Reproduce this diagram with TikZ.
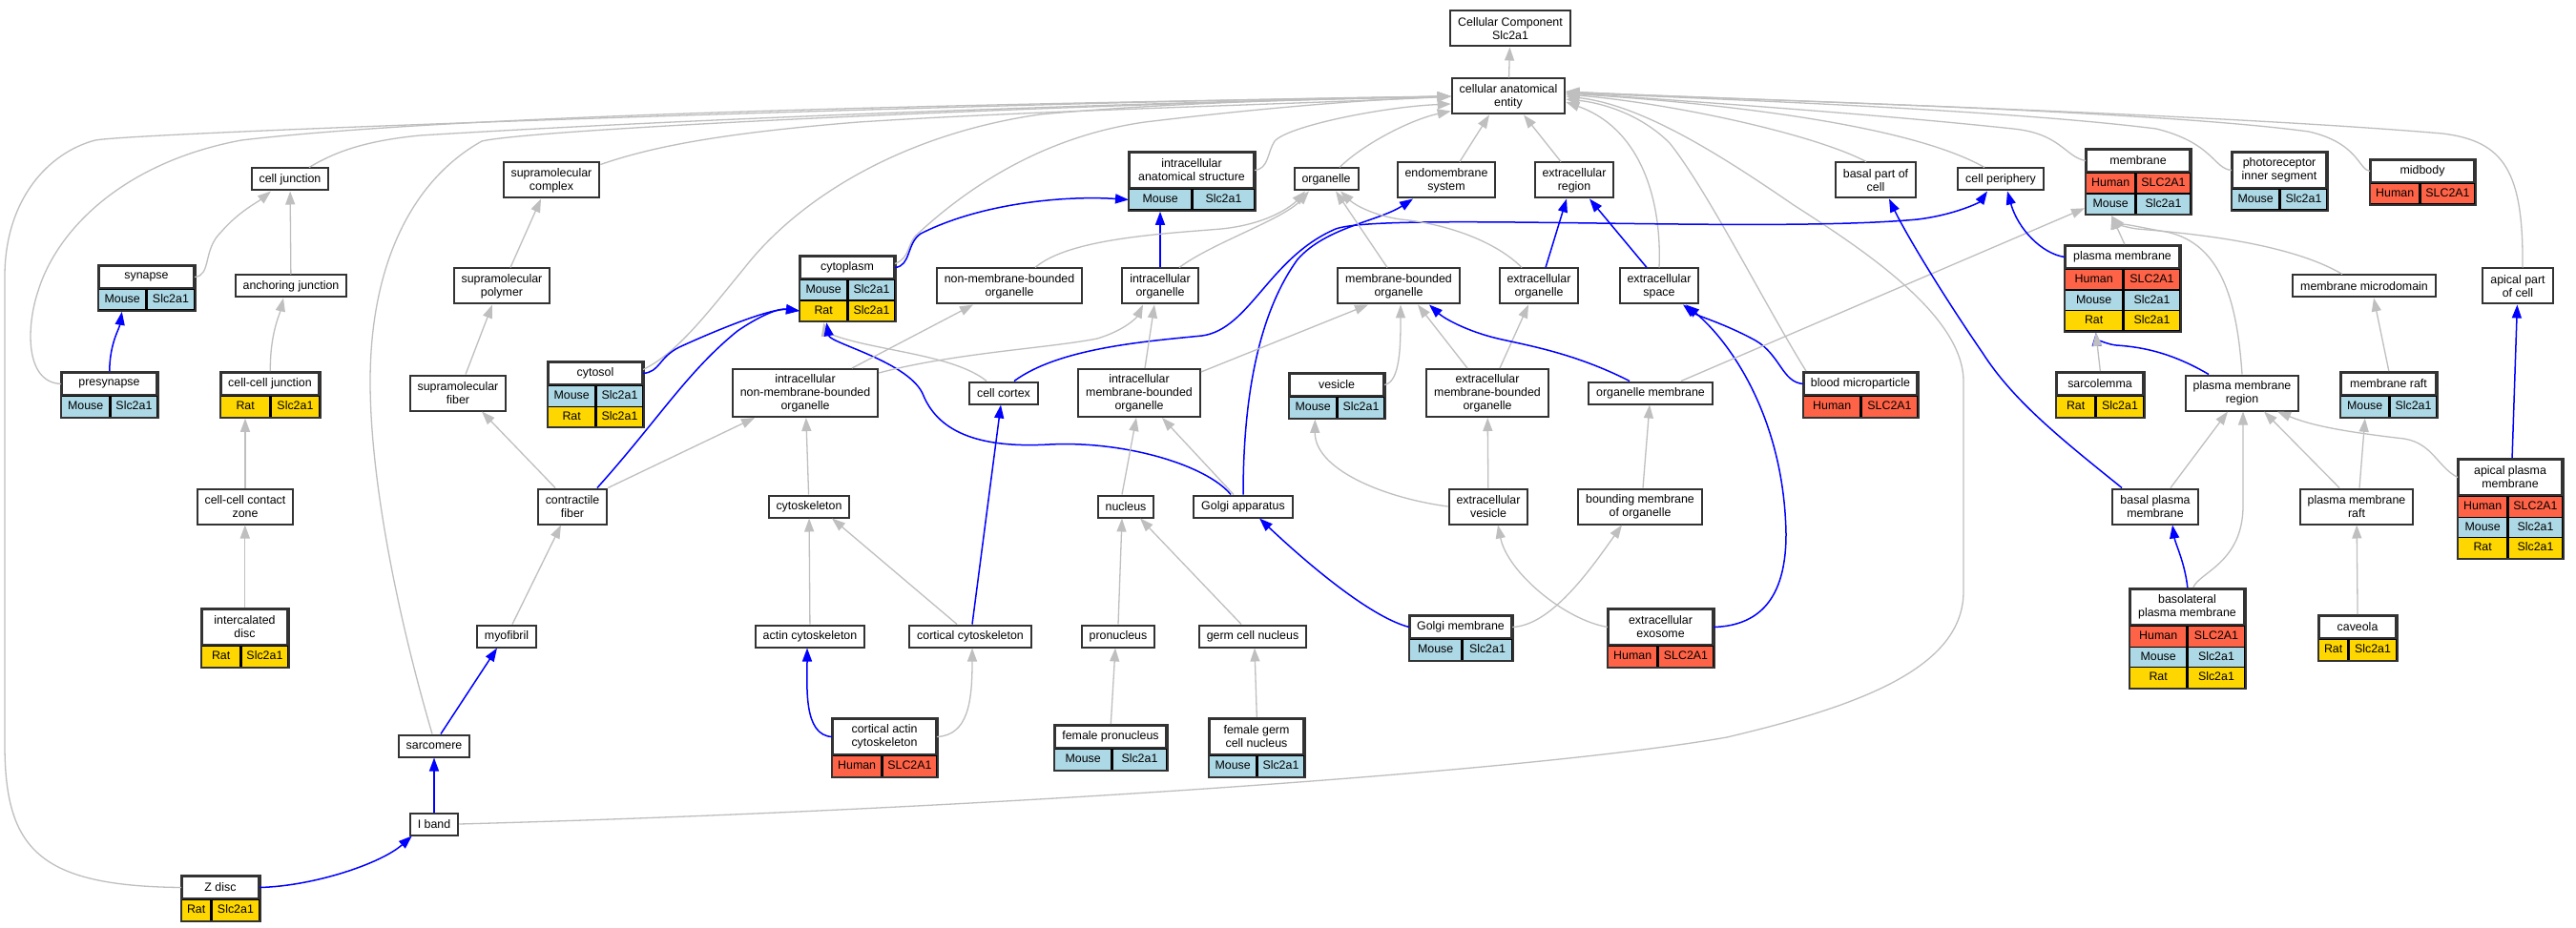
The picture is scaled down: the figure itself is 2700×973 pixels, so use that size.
\documentclass[tikz,border=0pt]{standalone}
\usepackage[svgnames]{xcolor}
\usepackage{fontspec}
\setmainfont{Liberation Sans}
\usepackage{tikz}
\usetikzlibrary{arrows.meta,fit}

% #1 name, #2 header style, #3 top centre, #4/#5 column widths, #6 header, #7 rows
\newcommand{\gotab}[7]{%
    \node[term, #2, anchor=north, inner xsep=2pt, minimum width=#4+#5] (#1-h) at (#3) {#6};
    \foreach \species/\gene/\shade [count=\i] in {#7} {
        \node[cell, fill=\shade, minimum width=#4, anchor=north west] (#1-a\i)
            at ([yshift=-(\i-1)*21.5pt]#1-h.south west) {\species};
        \node[cell, fill=\shade, minimum width=#5, anchor=north west] (#1-b\i) at (#1-a\i.north east) {\gene};
        \xdef\lastrow{\i}
    }
    \node[fit=(#1-h)(#1-b\lastrow), inner sep=0pt, draw=black!80, line width=2pt] (#1) {};
}

\begin{document}
\begin{tikzpicture}[x=1pt, y=-1pt,
      every node/.append style={font=\fontsize{12.4}{14}\selectfont},
      isa/.style={draw=black!25, line width=1.3pt, -{Triangle[length=14pt,width=10pt]}},
      partof/.style={draw=blue, line width=1.5pt, -{Triangle[length=14pt,width=10pt]}}]
    \tikzstyle{term} = [draw=black!80, line width=2pt, fill=white, align=center, inner xsep=8pt, inner ysep=2pt, minimum height=23pt]
    \tikzstyle{two} = [minimum height=37pt]
    \tikzstyle{three} = [minimum height=50pt]
    \tikzstyle{cell} = [draw=black, line width=1.3pt, minimum height=21.5pt, inner sep=0pt, text height=9pt, text depth=2.5pt]
    \fill[white] (0,0) rectangle (2700,973);
    \useasboundingbox (0,0) rectangle (2700,973);

    \node[term, two] (cc) at (1583,30) {Cellular Component\\Slc2a1};
    \node[term, two] (cae) at (1581,101) {cellular anatomical\\entity};
    \node[term] (celljunction) at (304,188) {cell junction};
    \node[term, two] (supcomplex) at (578,189) {supramolecular\\complex};
    \node[term] (organelle) at (1390,188) {organelle};
    \node[term, two] (endomem) at (1516,189) {endomembrane\\system};
    \node[term, two] (exregion) at (1650,189) {extracellular\\region};
    \node[term, two] (basalpart) at (1966,189) {basal part of\\cell};
    \node[term] (periphery) at (2097,188) {cell periphery};
    \node[term] (anchoring) at (305,300) {anchoring junction};
    \node[term, two] (suppolymer) at (526,300) {supramolecular\\polymer};
    \node[term, two] (nmbo) at (1058,300) {non-membrane-bounded\\organelle};
    \node[term, two] (intraorg) at (1216,300) {intracellular\\organelle};
    \node[term, two] (mbo) at (1466,300) {membrane-bounded\\organelle};
    \node[term, two] (exorg) at (1613,300) {extracellular\\organelle};
    \node[term, two] (exspace) at (1739,300) {extracellular\\space};
    \node[term] (microdomain) at (2478,300) {membrane microdomain};
    \node[term, two] (apicalpart) at (2639,300) {apical part\\of cell};
    \node[term, two] (supfiber) at (480,412) {supramolecular\\fiber};
    \node[term, three] (inmbo) at (844,412) {intracellular\\non-membrane-bounded\\organelle};
    \node[term] (cortex) at (1052,412) {cell cortex};
    \node[term, three] (imbo) at (1194,412) {intracellular\\membrane-bounded\\organelle};
    \node[term, three] (embo) at (1559,412) {extracellular\\membrane-bounded\\organelle};
    \node[term] (orgmem) at (1730,412) {organelle membrane};
    \node[term, two] (pmregion) at (2350,412) {plasma membrane\\region};
    \node[term, two] (contactzone) at (257,531) {cell-cell contact\\zone};
    \node[term, two] (contractile) at (600,531) {contractile\\fiber};
    \node[term] (cytoskeleton) at (848,531) {cytoskeleton};
    \node[term] (nucleus) at (1180,531) {nucleus};
    \node[term] (golgi) at (1303,531) {Golgi apparatus};
    \node[term, two] (exvesicle) at (1560,531) {extracellular\\vesicle};
    \node[term, two] (boundmem) at (1719,531) {bounding membrane\\of organelle};
    \node[term, two] (basalpm) at (2259,531) {basal plasma\\membrane};
    \node[term, two] (pmraft) at (2470,531) {plasma membrane\\raft};
    \node[term] (myofibril) at (531,667) {myofibril};
    \node[term] (actin) at (849,667) {actin cytoskeleton};
    \node[term] (corticalcyto) at (1017,667) {cortical cytoskeleton};
    \node[term] (pronucleus) at (1172,667) {pronucleus};
    \node[term] (germnucleus) at (1313,667) {germ cell nucleus};
    \node[term] (sarcomere) at (455,782) {sarcomere};
    \node[term] (iband) at (455,864) {I band};

    \gotab{synapse}{}{153.5,278}{49}{50}{synapse}{Mouse/Slc2a1/LightBlue}
    \gotab{presynapse}{}{114.5,390}{50}{49}{presynapse}{Mouse/Slc2a1/LightBlue}
    \gotab{ccjunction}{}{283,390}{51}{51}{cell-cell junction}{Rat/Slc2a1/Gold}
    \gotab{cytosol}{}{624,379}{49}{49}{cytosol}{Mouse/Slc2a1/LightBlue, Rat/Slc2a1/Gold}
    \gotab{cytoplasm}{}{888,268}{49}{49}{cytoplasm}{Mouse/Slc2a1/LightBlue, Rat/Slc2a1/Gold}
    \gotab{ias}{two}{1249,159}{65}{65}{intracellular\\anatomical structure}{Mouse/Slc2a1/LightBlue}
    \gotab{vesicle}{}{1401,391}{49}{49}{vesicle}{Mouse/Slc2a1/LightBlue}
    \gotab{membrane}{}{2241,156}{51}{57}{membrane}{Human/SLC2A1/Tomato, Mouse/Slc2a1/LightBlue}
    \gotab{pis}{two}{2389,159}{49}{49}{photoreceptor\\inner segment}{Mouse/Slc2a1/LightBlue}
    \gotab{midbody}{}{2539,167}{51}{57}{midbody}{Human/SLC2A1/Tomato}
    \gotab{pm}{}{2224.5,257}{60}{59}{plasma membrane}{Human/SLC2A1/Tomato, Mouse/Slc2a1/LightBlue, Rat/Slc2a1/Gold}
    \gotab{bmp}{}{1950,390}{59}{59}{blood microparticle}{Human/SLC2A1/Tomato}
    \gotab{sarcolemma}{}{2201,390}{40}{50}{sarcolemma}{Rat/Slc2a1/Gold}
    \gotab{raft}{}{2503.5,390}{50}{49}{membrane raft}{Mouse/Slc2a1/LightBlue}
    \gotab{apicalpm}{two}{2631,481}{51}{57}{apical plasma\\membrane}{Human/SLC2A1/Tomato, Mouse/Slc2a1/LightBlue, Rat/Slc2a1/Gold}
    \gotab{intercalated}{two}{256.5,638}{40}{49}{intercalated\\disc}{Rat/Slc2a1/Gold}
    \gotab{golgimem}{}{1531,645}{54}{52}{Golgi membrane}{Mouse/Slc2a1/LightBlue}
    \gotab{exosome}{two}{1740.5,638}{51}{58}{extracellular\\exosome}{Human/SLC2A1/Tomato}
    \gotab{basolateral}{two}{2292.5,617}{59}{60}{basolateral\\plasma membrane}{Human/SLC2A1/Tomato, Mouse/Slc2a1/LightBlue, Rat/Slc2a1/Gold}
    \gotab{caveola}{}{2471,645}{30}{50}{caveola}{Rat/Slc2a1/Gold}
    \gotab{cac}{two}{927,753}{51}{57}{cortical actin\\cytoskeleton}{Human/SLC2A1/Tomato}
    \gotab{fpronucleus}{}{1164,760}{59}{57}{female pronucleus}{Mouse/Slc2a1/LightBlue}
    \gotab{fgcn}{two}{1317,753}{49}{49}{female germ\\cell nucleus}{Mouse/Slc2a1/LightBlue}
    \gotab{zdisc}{}{231,918}{30}{50}{Z disc}{Rat/Slc2a1/Gold}

    \draw[isa] (cae) -- (cc);
    \draw[isa] (zdisc-h.west) .. controls (40,929) and (5,890) .. (5,780) -- (5,290) .. controls (5,210) and (50,160) .. (100,147) .. controls (150,138) and (1100,106) .. (cae.west);
    \draw[isa] (presynapse-h.west) .. controls (25,401) and (28,340) .. (40,305) .. controls (60,240) and (130,170) .. (253,147) .. controls (500,118) and (1100,108) .. (cae.west);
    \draw[isa] ([xshift=20pt]celljunction.north) .. controls (350,160) and (380,148) .. (440,142) .. controls (800,120) and (1300,105) .. (cae.west);
    \draw[isa] ([xshift=-2pt]sarcomere.north) .. controls (415,640) and (388,500) .. (388,400) .. controls (388,280) and (430,190) .. (505,148) .. controls (560,135) and (1100,110) .. (cae.west);
    \draw[isa] ([yshift=-3pt]supcomplex.north east) .. controls (680,155) and (750,140) .. (900,128) .. controls (1100,115) and (1400,108) .. (cae.west);
    \draw[isa] ([yshift=4pt]cytosol-h.east) .. controls (710,370) and (740,330) .. (781,280) .. controls (840,205) and (950,140) .. (1090,120) .. controls (1250,105) and (1450,103) .. (cae.west);
    \draw[isa] ([yshift=4pt]cytoplasm-h.east) .. controls (955,270) and (950,255) .. (962,245) .. controls (1000,210) and (1080,145) .. (1200,128) .. controls (1350,110) and (1450,104) .. (cae.west);
    \draw[isa] (ias-h.east) .. controls (1330,177) and (1328,160) .. (1336,148) .. controls (1350,132) and (1450,112) .. ([yshift=-8pt]cae.west);
    \draw[isa] ([xshift=14pt]organelle.north) .. controls (1430,150) and (1480,125) .. ([yshift=4pt]cae.south west);
    \draw[isa] ([xshift=14pt]endomem.north) -- ([xshift=-20pt]cae.south);
    \draw[isa] ([xshift=-14pt]exregion.north) -- ([xshift=16pt]cae.south);
    \draw[isa] (exspace.north) .. controls (1742,210) and (1720,135) .. ([yshift=-6pt]cae.east);
    \draw[isa] ([xshift=4pt]bmp.north west) .. controls (1850,320) and (1790,200) .. (1750,150) .. controls (1720,120) and (1680,108) .. ([yshift=-3pt]cae.east);
    \draw[isa] (iband.east) .. controls (1000,850) and (1600,810) .. (1810,773) .. controls (1950,740) and (2058,700) .. (2058,620) -- (2058,400) .. controls (2058,330) and (1950,260) .. (1880,215) .. controls (1800,160) and (1720,110) .. (cae.east);
    \draw[isa] ([xshift=-10pt]basalpart.north) .. controls (1900,140) and (1750,108) .. ([yshift=2pt]cae.east);
    \draw[isa] ([xshift=-17pt]periphery.north) .. controls (2000,130) and (1800,108) .. ([yshift=3pt]cae.east);
    \draw[isa] (membrane-h.west) .. controls (2165,165) and (2160,140) .. (2110,135) .. controls (1950,118) and (1750,105) .. ([yshift=4pt]cae.east);
    \draw[isa] (pis-h.west) .. controls (2320,177) and (2320,150) .. (2260,135) .. controls (2100,115) and (1800,104) .. ([yshift=4pt]cae.east);
    \draw[isa] (midbody-h.west) .. controls (2472,178) and (2472,150) .. (2420,138) .. controls (2250,115) and (1800,104) .. ([yshift=5pt]cae.east);
    \draw[isa] ([xshift=5pt]apicalpart.north) .. controls (2645,180) and (2625,148) .. (2560,140) .. controls (2300,118) and (1800,104) .. ([yshift=5pt]cae.east);

    \draw[isa] (synapse-h.east) .. controls (222,289) and (212,262) .. (232,243) .. controls (250,222) and (270,212) .. ([xshift=-20pt]celljunction.south);
    \draw[isa] (anchoring) -- (celljunction);
    \draw[isa] (ccjunction.north) .. controls (283,350) and (293,330) .. ([xshift=-8pt]anchoring.south);
    \draw[isa] (contactzone.north) -- (contactzone.north |- ccjunction.south);
    \draw[isa] (intercalated.north) -- (intercalated.north |- contactzone.south);
    \draw[partof] (presynapse.north) .. controls (115,360) and (125,345) .. ([xshift=-26pt]synapse.south);
    \draw[partof] (zdisc-h.east) .. controls (330,929) and (400,905) .. ([xshift=3pt]iband.south west);
    \draw[partof] (iband) -- (sarcomere);
    \draw[partof] ([xshift=7pt]sarcomere.north) -- ([xshift=-10pt]myofibril.south);
    \draw[isa] ([xshift=6pt]myofibril.north) -- ([xshift=-12pt]contractile.south);
    \draw[isa] ([xshift=-18pt]contractile.north) -- ([xshift=25pt]supfiber.south);
    \draw[isa] ([xshift=8pt]supfiber.north) -- ([xshift=-10pt]suppolymer.south);
    \draw[isa] ([xshift=9pt]suppolymer.north) -- ([xshift=-11pt]supcomplex.south);
    \draw[partof] ([xshift=26pt]contractile.north) .. controls (690,440) and (720,390) .. (773,347) .. controls (795,332) and (815,323) .. (cytoplasm-a2.west);
    \draw[partof] (cytosol-h.east) .. controls (692,390) and (690,375) .. (712,364) .. controls (760,342) and (810,323) .. (cytoplasm-a2.west);
    \draw[isa] (contractile.north east) -- ([xshift=-53pt]inmbo.south);
    \draw[isa] (cytoskeleton) -- (inmbo);
    \draw[isa] (actin) -- (cytoskeleton);
    \draw[isa] ([xshift=-14pt]corticalcyto.north) -- ([xshift=24pt]cytoskeleton.south);
    \draw[partof] (cac-h.west) .. controls (842,771) and (846,720) .. ([xshift=-3pt]actin.south);
    \draw[isa] (cac-h.east) .. controls (1015,771) and (1019,735) .. ([xshift=2pt]corticalcyto.south);
    \draw[partof] ([xshift=2pt]corticalcyto.north) -- ([xshift=-3pt]cortex.south);
    \draw[isa] ([xshift=-18pt]cortex.north) .. controls (1000,372) and (920,368) .. (875,352) .. controls (866,348) and (864,342) .. ([xshift=-25pt]cytoplasm.south);
    \draw[partof] ([xshift=-13pt]golgi.north) .. controls (1265,488) and (1180,462) .. (1100,466) .. controls (1030,470) and (985,455) .. (968,415) .. controls (955,380) and (870,360) .. ([xshift=-22pt]cytoplasm.south);
    \draw[partof] ([xshift=11pt]cortex.north) .. controls (1110,365) and (1200,358) .. (1260,352) .. controls (1310,345) and (1330,270) .. (1400,240) .. controls (1450,222) and (1850,245) .. (2010,230) .. controls (2050,225) and (2075,212) .. ([xshift=-14pt]periphery.south);
    \draw[partof] (golgi.north) .. controls (1303,420) and (1318,330) .. (1360,272) .. controls (1390,238) and (1445,232) .. ([xshift=-35pt]endomem.south);
    \draw[isa] ([xshift=-10pt]golgi.north) -- ([xshift=24pt]imbo.south);
    \draw[partof] (golgimem-h.west) .. controls (1440,648) and (1380,600) .. ([xshift=17pt]golgi.south);
    \draw[isa] (golgimem-h.east) .. controls (1625,656) and (1665,600) .. ([xshift=-19pt]boundmem.south);
    \draw[isa] ([xshift=3pt]boundmem.north) -- ([xshift=-1pt]orgmem.south);
    \draw[isa] (exvesicle.west) .. controls (1450,522) and (1378,492) .. ([xshift=-23pt]vesicle.south);
    \draw[isa] (exvesicle) -- (embo);
    \draw[isa] (exosome-h.west) .. controls (1640,650) and (1580,600) .. ([xshift=10pt]exvesicle.south);
    \draw[partof] (exosome-h.east) .. controls (1850,656) and (1872,620) .. (1872,560) .. controls (1870,440) and (1815,360) .. ([xshift=28pt]exspace.south);
    \draw[partof] (bmp-h.west) .. controls (1868,401) and (1866,372) .. (1840,357) .. controls (1805,338) and (1780,332) .. ([xshift=25pt]exspace.south);
    \draw[isa] ([xshift=6pt]imbo.north) -- ([xshift=-6pt]intraorg.south);
    \draw[isa] ([yshift=-4pt]imbo.north east) -- ([xshift=-32pt]mbo.south);
    \draw[isa] (vesicle-h.east) .. controls (1468,401) and (1468,360) .. ([xshift=2pt]mbo.south);
    \draw[isa] ([xshift=-21pt]embo.north) -- ([xshift=20pt]mbo.south);
    \draw[isa] ([xshift=13pt]embo.north) -- ([xshift=-11pt]exorg.south);
    \draw[partof] ([xshift=-22pt]orgmem.north) .. controls (1650,370) and (1600,362) .. (1570,355) .. controls (1540,348) and (1515,335) .. ([xshift=32pt]mbo.south);
    \draw[isa] ([xshift=32pt]orgmem.north) -- ([yshift=8pt]membrane.south west);
    \draw[isa] ([xshift=2pt]pm.north) -- ([xshift=-28pt]membrane.south);
    \draw[isa] ([xshift=-23pt]microdomain.north) .. controls (2400,255) and (2300,245) .. (2240,240) .. controls (2224,238) and (2215,232) .. ([xshift=-28pt]membrane.south);
    \draw[isa] (pmregion.north) .. controls (2345,320) and (2330,255) .. (2270,243) .. controls (2240,238) and (2218,232) .. ([xshift=-28pt]membrane.south);
    \draw[partof] ([xshift=-35pt]pmregion.north) .. controls (2280,372) and (2250,364) .. (2218,362) .. controls (2202,360) and (2197,352) .. ([xshift=-28pt]pm.south);
    \draw[isa] (sarcolemma.north) -- ([xshift=-28pt]pm.south);
    \draw[partof] (pm-h.west) .. controls (2140,266) and (2115,240) .. ([xshift=7pt]periphery.south);
    \draw[partof] ([xshift=-35pt]basalpm.north) .. controls (2160,460) and (2110,420) .. (2078,370) .. controls (2030,300) and (1995,240) .. ([xshift=14pt]basalpart.south);
    \draw[isa] ([xshift=16pt]basalpm.north) -- ([xshift=-15pt]pmregion.south);
    \draw[partof] (basolateral.north) .. controls (2290,590) and (2280,570) .. ([xshift=18pt]basalpm.south);
    \draw[isa] ([xshift=6pt]basolateral.north) .. controls (2305,600) and (2351,590) .. (2351,530) -- ([xshift=1pt]pmregion.south);
    \draw[isa] ([xshift=-18pt]pmraft.north) -- ([xshift=23pt]pmregion.south);
    \draw[isa] ([xshift=3pt]pmraft.north) -- ([xshift=-25pt]raft.south);
    \draw[isa] (caveola) -- (pmraft);
    \draw[isa] (raft.north) -- ([xshift=10pt]microdomain.south);
    \draw[partof] (apicalpm) -- (apicalpart);
    \draw[isa] (apicalpm-h.west) .. controls (2555,490) and (2550,465) .. (2520,460) .. controls (2450,452) and (2420,445) .. ([xshift=37pt]pmregion.south);
    \draw[partof] (cytoplasm-h.east) .. controls (955,279) and (950,255) .. (965,245) .. controls (1030,212) and (1120,205) .. (ias-a1.west);
    \draw[partof] (intraorg.north) -- (intraorg.north |- ias.south);
    \draw[isa] ([xshift=20pt]intraorg.north) .. controls (1270,255) and (1345,230) .. ([xshift=-18pt]organelle.south);
    \draw[isa] ([xshift=27pt]nmbo.north) .. controls (1120,250) and (1220,245) .. (1280,240) .. controls (1330,235) and (1355,215) .. ([xshift=-22pt]organelle.south);
    \draw[isa] ([xshift=-12pt]mbo.north) -- ([xshift=10pt]organelle.south);
    \draw[isa] ([xshift=-18pt]exorg.north) .. controls (1570,255) and (1520,235) .. (1468,230) .. controls (1440,226) and (1420,215) .. ([xshift=15pt]organelle.south);
    \draw[partof] ([xshift=7pt]exorg.north) -- ([xshift=-8pt]exregion.south);
    \draw[partof] ([xshift=-13pt]exspace.north) -- ([xshift=16pt]exregion.south);
    \draw[isa] ([xshift=49pt]inmbo.north) -- ([xshift=-38pt]nmbo.south);
    \draw[isa] ([yshift=-5pt]inmbo.north east) .. controls (1000,370) and (1100,365) .. (1150,355) .. controls (1180,346) and (1192,332) .. ([xshift=-18pt]intraorg.south);
    \draw[isa] ([xshift=-4pt]nucleus.north) -- ([xshift=-3pt]imbo.south);
    \draw[isa] (pronucleus.north) -- ([xshift=-4pt]nucleus.south);
    \draw[isa] ([xshift=-12pt]germnucleus.north) -- ([xshift=15pt]nucleus.south);
    \draw[isa] (fpronucleus.north) -- ([xshift=-3pt]pronucleus.south);
    \draw[isa] (fgcn.north) -- ([xshift=2pt]germnucleus.south);
\end{tikzpicture}
\end{document}
